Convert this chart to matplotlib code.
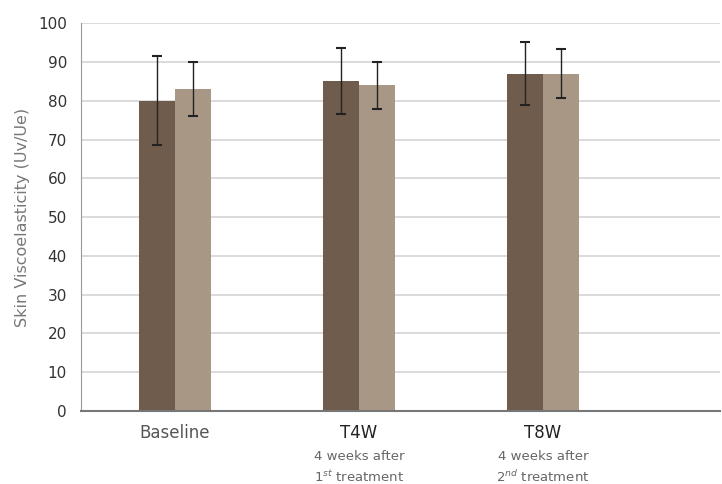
import numpy as np
import matplotlib.pyplot as plt

# 데이터
groups = ['Baseline', 'T4W', 'T8W']
sub_labels = ['', '4 weeks after\n1$^{st}$ treatment', '4 weeks after\n2$^{nd}$ treatment']
dark_vals = [80, 85, 87]
dark_err = [11.5, 8.5, 8.2]
light_vals = [83, 84, 87]
light_err = [7, 6, 6.3]

dark_color = '#705c4c'
light_color = '#a99786'

fig = plt.figure(figsize=(7.22, 4.84), dpi=100)
ax = fig.add_axes([0.112, 0.151, 0.885, 0.801])

x = np.arange(len(groups))
w = 0.195

ax.bar(x - w / 2, dark_vals, w, color=dark_color, zorder=2)
ax.bar(x + w / 2, light_vals, w, color=light_color, zorder=2)
ax.errorbar(x - w / 2, dark_vals, yerr=dark_err, fmt='none', ecolor='#222222',
            elinewidth=1, capsize=3.5, capthick=1.5, zorder=3)
ax.errorbar(x + w / 2, light_vals, yerr=light_err, fmt='none', ecolor='#222222',
            elinewidth=1, capsize=3.5, capthick=1.5, zorder=3)

ax.set_ylim(0, 100)
ax.set_xlim(-0.51, 2.96)
ax.set_yticks(range(0, 101, 10))
ax.yaxis.grid(True, color='#d4d4d4', linewidth=1.2, zorder=0)
ax.set_axisbelow(True)
ax.tick_params(axis='y', length=0, labelsize=11, labelcolor='#333333', pad=10)
ax.set_xticks([])
ax.set_ylabel('Skin Viscoelasticity (Uv/Ue)', fontsize=11.5, color='#777777', labelpad=6)

for s in ['top', 'right']:
    ax.spines[s].set_visible(False)
ax.spines['left'].set_color('#999999')
ax.spines['bottom'].set_color('#777777')
ax.spines['bottom'].set_linewidth(1.5)

for i, g in enumerate(groups):
    col = '#555555' if i == 0 else '#222222'
    ax.text(x[i], -3.5, g, ha='center', va='top', fontsize=12, color=col,
            transform=ax.transData)
    if sub_labels[i]:
        ax.text(x[i], -10, sub_labels[i], ha='center', va='top', fontsize=9.5,
                color='#666666', linespacing=1.5)

fig.savefig('out.png', dpi=100)
